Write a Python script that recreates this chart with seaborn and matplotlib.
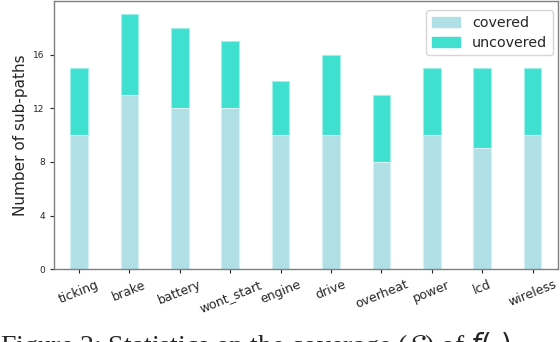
import matplotlib
matplotlib.use("Agg")
import matplotlib.pyplot as plt
import seaborn as sns
import pandas as pd
from matplotlib.patches import Patch

categories = ["ticking", "brake", "battery", "wont_start", "engine", "drive",
              "overheat", "power", "lcd", "wireless"]
covered = [10, 13, 12, 12, 10, 10, 8, 10, 9, 10]
uncovered = [5, 6, 6, 5, 4, 6, 5, 5, 6, 5]
y_ticks = [0, 4, 8, 12, 16]

sns.set_style("ticks")
plt.rcParams['font.family'] = ['DejaVu Sans']

df = pd.DataFrame({"cat": categories, "covered": covered,
                   "total": [c + u for c, u in zip(covered, uncovered)]})

fig = plt.figure(figsize=(5.6, 3.42), dpi=100)
ax = fig.add_axes([0.096, 0.213, 0.9, 0.784])

c_cov = "#B0E0E6"
c_unc = "#40E0D0"
sns.barplot(data=df, x="cat", y="total", color=c_unc, saturation=1, width=0.35,
            edgecolor="#9ef0e8", linewidth=0.8, ax=ax)
sns.barplot(data=df, x="cat", y="covered", color=c_cov, saturation=1, width=0.35,
            edgecolor="#d6f0f3", linewidth=0.8, ax=ax)

ax.set_ylim(0, 20)
ax.set_yticks(y_ticks)
ax.tick_params(axis='y', labelsize=6.5, length=3)
ax.tick_params(axis='x', labelsize=9, length=3)
for lab in ax.get_xticklabels():
    lab.set_rotation(22)
    lab.set_ha('center')
ax.set_xlabel("")
ax.set_ylabel("Number of sub-paths", fontsize=11)
for s in ax.spines.values():
    s.set_color("#808080")
    s.set_linewidth(1.0)

handles = [Patch(color=c_cov, label="covered"), Patch(color=c_unc, label="uncovered")]
ax.legend(handles=handles, loc="upper right", bbox_to_anchor=(0.99, 0.966),
          borderaxespad=0.0, fontsize=10.3, frameon=True,
          handlelength=2.0, borderpad=0.4, labelspacing=0.4)

fig.text(0.0, 0.035, "Figure 2: Statistics on the coverage ($\\mathcal{S}$) of $f(\\cdot)$",
         fontsize=20, family=['Liberation Serif'], va='top', ha='left')

fig.savefig("out.png", dpi=100)
